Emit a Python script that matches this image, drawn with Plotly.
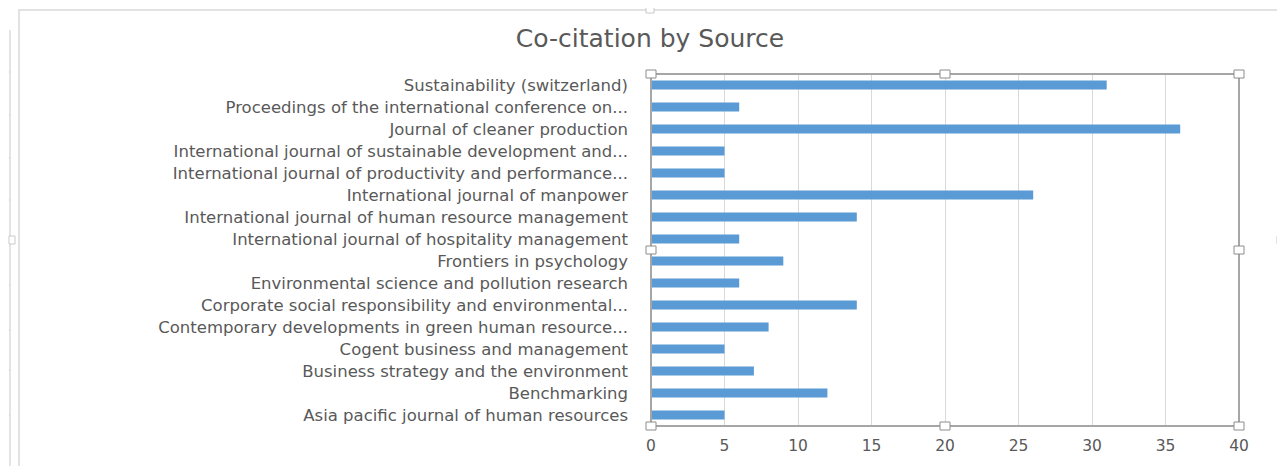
import plotly.graph_objects as go

categories = [
    "Sustainability (switzerland)",
    "Proceedings of the international conference on...",
    "Journal of cleaner production",
    "International journal of sustainable development and...",
    "International journal of productivity and performance...",
    "International journal of manpower",
    "International journal of human resource management",
    "International journal of hospitality management",
    "Frontiers in psychology",
    "Environmental science and pollution research",
    "Corporate social responsibility and environmental...",
    "Contemporary developments in green human resource...",
    "Cogent business and management",
    "Business strategy and the environment",
    "Benchmarking",
    "Asia pacific journal of human resources",
]
values = [31, 6, 36, 5, 5, 26, 14, 6, 9, 6, 14, 8, 5, 7, 12, 5]
x_ticks = [0, 5, 10, 15, 20, 25, 30, 35, 40]

OFF = 8  # page body margin in the browser
W, H = 1285 - OFF, 466 - OFF
# plot-area edges in screen pixels (reference)
SL, SR, ST, SB = 651, 1239, 74, 426
L, R, T, B = SL - OFF, SR - OFF, ST - OFF, SB - OFF
TEXT = "#595959"
FONT = "DejaVu Sans"


def px(x):  # screen x -> paper
    return (x - OFF - L) / (R - L)


def py(y):  # screen y -> paper
    return (B - (y - OFF)) / (B - T)


fig = go.Figure(
    go.Bar(
        x=values,
        y=categories,
        orientation="h",
        marker=dict(color="#5B9BD5", line=dict(width=0)),
        hoverinfo="x+y",
    )
)

shapes = []
# outer chart-area frame
shapes.append(dict(type="rect", xref="paper", yref="paper",
                   x0=px(19), x1=px(1279), y0=py(475), y1=py(10),
                   line=dict(color="#D9D9D9", width=1.5), layer="below"))
# left page rule
shapes.append(dict(type="line", xref="paper", yref="paper",
                   x0=px(10), x1=px(10), y0=py(470), y1=py(30),
                   line=dict(color="#C8C8C8", width=1)))
for yy in [72, 115, 158, 200, 285, 330, 370, 415]:
    shapes.append(dict(type="line", xref="paper", yref="paper",
                       x0=px(9), x1=px(10), y0=py(yy), y1=py(yy),
                       line=dict(color="#C8C8C8", width=1)))
# selected plot-area border
shapes.append(dict(type="rect", xref="paper", yref="paper",
                   x0=0, x1=1, y0=0, y1=1,
                   line=dict(color="#A6A6A6", width=2), layer="above"))
# selection handles on plot area
hx, hy = 5, 4
for (cx, cy) in [(SL, ST), ((SL + SR) / 2, ST), (SR, ST), (SL, (ST + SB) / 2),
                 (SR, (ST + SB) / 2), (SL, SB), ((SL + SR) / 2, SB), (SR, SB)]:
    shapes.append(dict(type="rect", xref="paper", yref="paper",
                       x0=px(cx - hx), x1=px(cx + hx), y0=py(cy + hy), y1=py(cy - hy),
                       line=dict(color="#8C8C8C", width=1), fillcolor="white", layer="above"))
# chart-area handles
for (cx, cy, w, h) in [(650, 10, 4, 3), (1280, 240, 3, 4), (12, 240, 3, 4)]:
    shapes.append(dict(type="rect", xref="paper", yref="paper",
                       x0=px(cx - w), x1=px(cx + w), y0=py(cy + h), y1=py(cy - h),
                       line=dict(color="#C8C8C8", width=1), fillcolor="white", layer="above"))

fig.update_layout(
    width=W,
    height=H,
    margin=dict(l=L, r=W - R, t=T, b=H - B, pad=0),
    paper_bgcolor="white",
    plot_bgcolor="white",
    bargap=0.6,
    showlegend=False,
    title=dict(text="Co-citation by Source", x=(650 - OFF) / W, xanchor="center",
               y=1 - (38 - OFF) / H, yanchor="middle",
               font=dict(family=FONT, size=25, color=TEXT)),
    xaxis=dict(range=[0, 40], tickvals=x_ticks, showgrid=True, gridcolor="#D9D9D9",
               gridwidth=1, zeroline=False, showline=False, ticks="",
               tickfont=dict(family=FONT, size=15.5, color=TEXT), ticklabelstandoff=8,
               fixedrange=True),
    yaxis=dict(autorange="reversed", showgrid=False, showline=False, ticks="",
               tickfont=dict(family=FONT, size=16.5, color=TEXT), ticklabelstandoff=22,
               fixedrange=True),
    shapes=shapes,
)

fig.write_html("out.html")
